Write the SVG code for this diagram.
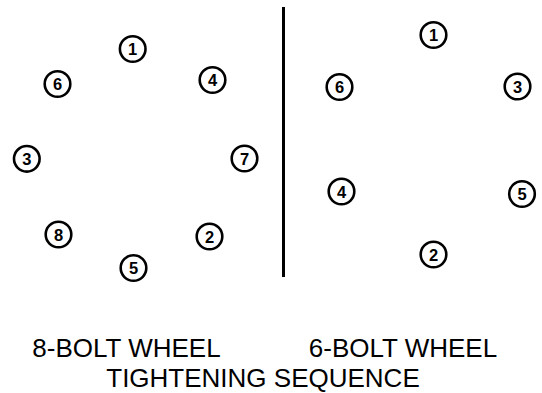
<svg xmlns="http://www.w3.org/2000/svg" width="542" height="393" viewBox="0 0 542 393">
<style>
.b circle{fill:#fff;stroke:#000;stroke-width:2.6}
.b text{font-family:"Liberation Sans",Arial,sans-serif;font-weight:bold;font-size:16.5px;text-anchor:middle;fill:#000}
.lbl{font-family:"Liberation Sans",Arial,sans-serif;font-size:26px;fill:#000;text-anchor:middle}
</style>
<rect width="542" height="393" fill="#fff"/>
<g id="divider"><line x1="283.5" y1="7" x2="283.5" y2="277" stroke="#000" stroke-width="3"/></g>
<g id="w8">
<g id="b8-1" class="b"><circle cx="132.7" cy="49" r="12.8"/><text x="132.7" y="55">1</text></g>
<g id="b8-6" class="b"><circle cx="57.5" cy="84" r="12.8"/><text x="57.5" y="90">6</text></g>
<g id="b8-4" class="b"><circle cx="212.5" cy="80" r="12.8"/><text x="212.5" y="86">4</text></g>
<g id="b8-3" class="b"><circle cx="26.8" cy="158.8" r="12.8"/><text x="26.8" y="164.8">3</text></g>
<g id="b8-7" class="b"><circle cx="244.5" cy="158.5" r="12.8"/><text x="244.5" y="164.5">7</text></g>
<g id="b8-8" class="b"><circle cx="58.5" cy="234.5" r="12.8"/><text x="58.5" y="240.5">8</text></g>
<g id="b8-2" class="b"><circle cx="209.5" cy="236.5" r="12.8"/><text x="209.5" y="242.5">2</text></g>
<g id="b8-5" class="b"><circle cx="133.5" cy="268" r="12.8"/><text x="133.5" y="274">5</text></g>
</g>
<g id="w6">
<g id="b6-1" class="b"><circle cx="433.5" cy="35" r="12.8"/><text x="433.5" y="41">1</text></g>
<g id="b6-6" class="b"><circle cx="339.5" cy="87" r="12.8"/><text x="339.5" y="93">6</text></g>
<g id="b6-3" class="b"><circle cx="517.5" cy="86.5" r="12.8"/><text x="517.5" y="92.5">3</text></g>
<g id="b6-4" class="b"><circle cx="341.5" cy="191.5" r="12.8"/><text x="341.5" y="197.5">4</text></g>
<g id="b6-5" class="b"><circle cx="522" cy="194" r="12.8"/><text x="522" y="200">5</text></g>
<g id="b6-2" class="b"><circle cx="433.5" cy="254.5" r="12.8"/><text x="433.5" y="260.5">2</text></g>
</g>
<g id="labels">
<text class="lbl" x="126.5" y="357">8-BOLT WHEEL</text>
<text class="lbl" x="403" y="357">6-BOLT WHEEL</text>
<text class="lbl" x="263" y="387">TIGHTENING SEQUENCE</text>
</g>
</svg>
